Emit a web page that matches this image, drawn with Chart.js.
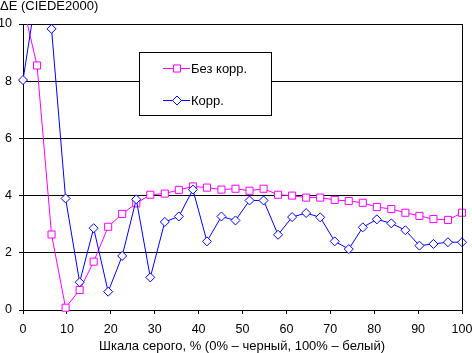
<!DOCTYPE html>
<html lang="ru">
<head>
  <meta charset="utf-8">
  <title>ΔE (CIEDE2000)</title>
  <script src="https://cdn.jsdelivr.net/npm/chart.js@4"></script>
  <style>
  body { margin: 0; background: #fff; }
  canvas { display: block; }
  </style>
</head>

<body>
  <canvas id="chart" width="472" height="353"></canvas>
  <script>
    // gray level, % (32 steps)
    var grayLevels = [0, 3.2, 6.5, 9.7, 12.9, 16.1, 19.4, 22.6, 25.8, 29.0, 32.3, 35.5, 38.7, 41.9, 45.2, 48.4,
                      51.6, 54.8, 58.1, 61.3, 64.5, 67.7, 71.0, 74.2, 77.4, 80.6, 83.9, 87.1, 90.3, 93.5, 96.8, 100];
    var noCorr = [10.65, 8.55, 2.64, 0.08, 0.7, 1.69, 2.91, 3.36, 3.73, 4.03, 4.07, 4.2, 4.32, 4.28, 4.21, 4.24,
                  4.17, 4.24, 4.03, 4.0, 3.93, 3.93, 3.85, 3.81, 3.75, 3.6, 3.53, 3.4, 3.29, 3.18, 3.15, 3.4];
    var corr = [8.04, 11.2, 9.83, 3.9, 0.97, 2.86, 0.64, 1.89, 3.87, 1.14, 3.08, 3.27, 4.21, 2.4, 3.27, 3.13,
                3.83, 3.83, 2.63, 3.25, 3.39, 3.24, 2.4, 2.13, 2.89, 3.17, 3.03, 2.79, 2.25, 2.31, 2.37, 2.37];
    var seriesNames = ['Без корр.', 'Корр.'];
    var xTicks = [0, 10, 20, 30, 40, 50, 60, 70, 80, 90, 100];
    var yTicks = [0, 2, 4, 6, 8, 10];
    var yTitle = 'ΔE (CIEDE2000)';
    var xTitle = 'Шкала серого, % (0% – черный, 100% – белый)';

    var font = 'Liberation Sans, Arial, sans-serif';

    var toPoints = function (values) {
      return values.map(function (v, i) { return { x: grayLevels[i], y: v }; });
    };

    // titles and the boxed legend, drawn like the excel original
    var decorations = {
      id: 'decorations',
      afterDraw: function (chart) {
        var ctx = chart.ctx;
        var area = chart.chartArea;
        ctx.save();
        ctx.fillStyle = '#000';
        ctx.font = '13px ' + font;
        ctx.textBaseline = 'alphabetic';
        ctx.textAlign = 'left';
        ctx.fillText(yTitle, 0, 10);
        ctx.textAlign = 'center';
        ctx.fillText(xTitle, 242, 350);

        // right border of plot area
        ctx.strokeStyle = '#000';
        ctx.lineWidth = 1;
        ctx.beginPath();
        ctx.moveTo(Math.round(area.right) + 0.5, area.top);
        ctx.lineTo(Math.round(area.right) + 0.5, area.bottom);
        ctx.stroke();

        // legend box
        ctx.fillStyle = '#fff';
        ctx.fillRect(139.5, 52.5, 132, 63);
        ctx.strokeRect(139.5, 52.5, 132, 63);

        var rows = [68, 100];
        chart.data.datasets.forEach(function (ds, i) {
          var y = rows[i] + 0.5;
          ctx.strokeStyle = ds.borderColor;
          ctx.lineWidth = 1;
          ctx.beginPath();
          ctx.moveTo(163, y);
          ctx.lineTo(190, y);
          ctx.stroke();
          ctx.fillStyle = '#fff';
          Chart.helpers.drawPoint(ctx, {
            pointStyle: ds.pointStyle,
            radius: ds.pointRadius,
            borderWidth: 1,
            rotation: 0
          }, 177, y);
          ctx.fillStyle = '#000';
          ctx.font = '13px ' + font;
          ctx.textAlign = 'left';
          ctx.textBaseline = 'alphabetic';
          ctx.fillText(seriesNames[i], 191, rows[i] + 5);
        });
        ctx.restore();
      }
    };

    var config = {
      type: 'line',
      data: {
        datasets: [{
          label: seriesNames[0],
          data: toPoints(noCorr),
          borderColor: '#ff00ff',
          backgroundColor: '#ffffff',
          borderWidth: 1,
          pointStyle: 'rect',
          pointRadius: 5,
          pointBorderWidth: 1,
          order: 2,
          clip: { left: 10, right: 10, top: 0, bottom: 10 }
        }, {
          label: seriesNames[1],
          data: toPoints(corr),
          borderColor: '#0000ff',
          backgroundColor: '#ffffff',
          borderWidth: 1,
          pointStyle: 'rectRot',
          pointRadius: 4.5,
          pointBorderWidth: 1,
          order: 1,
          clip: { left: 10, right: 10, top: 0, bottom: 10 }
        }]
      },
      options: {
        responsive: false,
        animation: false,
        layout: {
          padding: { top: 24, right: 10, left: 0, bottom: 0 }
        },
        plugins: {
          legend: { display: false },
          tooltip: { enabled: false }
        },
        scales: {
          x: {
            type: 'linear',
            min: 0,
            max: 100,
            afterBuildTicks: function (scale) {
              scale.ticks = xTicks.map(function (v) { return { value: v }; });
            },
            afterFit: function (scale) {
              scale.height = 43;
              scale.paddingLeft = 0;
              scale.paddingRight = 0;
            },
            ticks: {
              color: '#000',
              padding: 8,
              maxRotation: 0,
              font: { family: font, size: 12.5 }
            },
            grid: {
              color: 'rgba(0,0,0,0)',
              tickColor: '#000',
              tickLength: 4
            },
            border: { color: '#000' }
          },
          y: {
            min: 0,
            max: 10,
            afterBuildTicks: function (scale) {
              scale.ticks = yTicks.map(function (v) { return { value: v }; });
            },
            afterFit: function (scale) {
              scale.width = 23;
              scale.paddingTop = 0;
              scale.paddingBottom = 0;
            },
            ticks: {
              color: '#000',
              padding: 7,
              font: { family: font, size: 12.5 }
            },
            grid: {
              color: '#000',
              tickColor: '#000',
              tickLength: 4
            },
            border: { color: '#000' }
          }
        }
      },
      plugins: [decorations]
    };

    window.onload = function () {
      var ctx = document.getElementById('chart').getContext('2d');
      window.myChart = new Chart(ctx, config);
    };
  </script>
</body>
</html>
